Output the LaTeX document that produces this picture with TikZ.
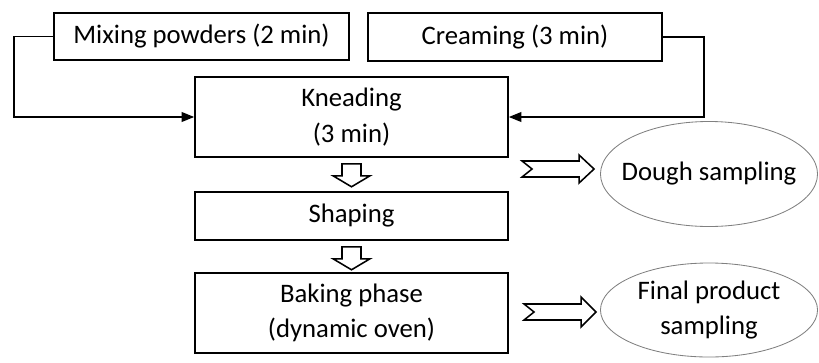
\documentclass[tikz,border=0pt]{standalone}
\usepackage{fontspec}
\setmainfont{Carlito}
\usetikzlibrary{arrows.meta, calc, shapes.geometric}

\begin{document}
\begin{tikzpicture}[
  x=0.025cm, y=-0.025cm,
  stepbox/.style={draw, line width=1.1pt, align=center, inner sep=2pt,
                  font=\fontsize{19}{25}\selectfont},
  sample/.style={draw=gray, line width=0.6pt, ellipse, align=center,
                 inner xsep=-0.4cm, inner ysep=-0.5cm,
                 minimum width=5.425cm, font=\fontsize{19}{25}\selectfont},
  feed/.style={line width=1.1pt, -{Triangle[length=9pt, width=7pt]}},
  hollow/.style={draw, line width=1.1pt, fill=white, line join=miter},
]
\useasboundingbox (0,0) rectangle (819,362);

% Preparation steps
\node[stepbox, minimum width=7.375cm, minimum height=1.175cm] (mix) at (201.5, 36.5) {Mixing powders (2 min)};
\node[stepbox, minimum width=7.35cm, minimum height=1.2cm] (cream) at (515, 37) {Creaming (3 min)};
\node[stepbox, minimum width=7.825cm, minimum height=2cm] (knead) at (351.5, 117) {Kneading\\(3 min)};
\node[stepbox, minimum width=7.825cm, minimum height=1.2cm] (shape) at (351.5, 216) {Shaping};
\node[stepbox, minimum width=7.825cm, minimum height=2cm] (bake) at (351.5, 313) {Baking phase\\(dynamic oven)};

% Sampling points
\node[sample, minimum height=2.625cm] (dough) at (709, 174) {Dough sampling};
\node[sample, minimum height=2.35cm] (final) at (709, 310) {Final product\\sampling};

% Feeding lines
\draw[feed] (mix.west) -- ++(-39,0) |- (knead.west);
\draw[feed] (cream.east) -- ++(41,0) |- (knead.east);

% Hollow arrows down
\draw[hollow] ($(knead.south)+(-9.5,6)$) -- ++(19,0) -- ++(0,12) -- ++(9,0)
  -- ++(-18.5,11) -- ++(-18.5,-11) -- ++(9,0) -- cycle;
\draw[hollow] ($(shape.south)+(-9.5,6)$) -- ++(19,0) -- ++(0,12) -- ++(9,0)
  -- ++(-18.5,11) -- ++(-18.5,-11) -- ++(9,0) -- cycle;

% Hollow arrows to sampling
\coordinate (dtip) at ($(dough.west)+(-6,-5)$);
\coordinate (ftip) at ($(final.west)+(-4,2)$);
\draw[hollow] (dtip) -- ++(-15,-14) -- ++(0,6) -- ++(-57,0) -- ++(10,8)
  -- ++(-10,8) -- ++(57,0) -- ++(0,6) -- cycle;
\draw[hollow] (ftip) -- ++(-15,-15) -- ++(0,7) -- ++(-57,0) -- ++(10,8)
  -- ++(-10,8) -- ++(57,0) -- ++(0,7) -- cycle;
\end{tikzpicture}
\end{document}
